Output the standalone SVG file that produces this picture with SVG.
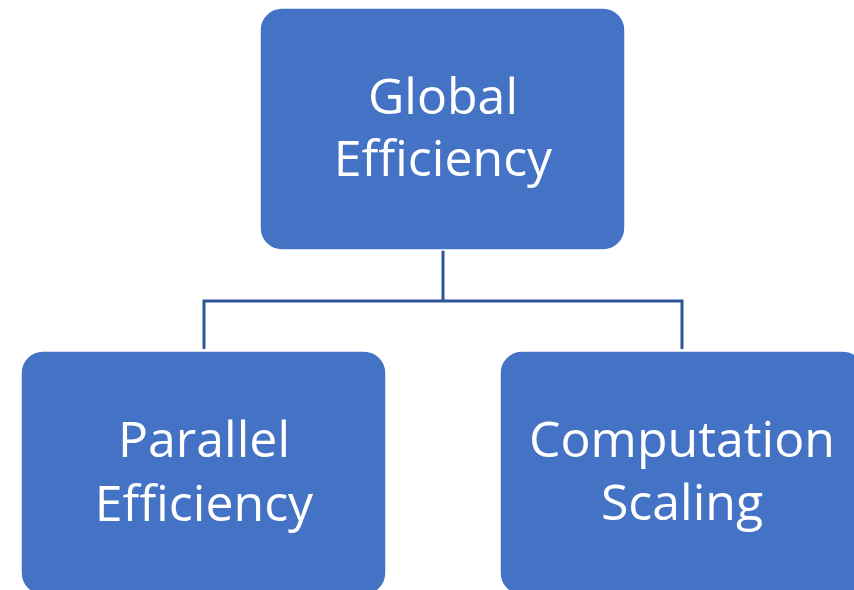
<svg xmlns="http://www.w3.org/2000/svg" width="854" height="590" viewBox="0 0 854 590">
<style>
.box{fill:#4472C4;stroke:#FFFFFF;stroke-width:1.5}
.lbl{fill:#FFFFFF;font-family:"Open Sans","Noto Sans","Liberation Sans",sans-serif;font-size:50px;text-anchor:middle}
.conn{fill:none;stroke:#2F5597;stroke-width:3}
</style>
<rect width="854" height="590" fill="#FFFFFF"/>
<g id="connectors">
<path class="conn" d="M443 250 V301 M204 349 V301 H682 V349"/>
</g>
<g id="global">
<rect class="box" x="260" y="8" width="365" height="242" rx="22" ry="22"/>
<text class="lbl" x="443" y="114">Global</text>
<text class="lbl" x="443" y="176">Efficiency</text>
</g>
<g id="parallel">
<rect class="box" x="21" y="351" width="365" height="244" rx="22" ry="22"/>
<text class="lbl" x="204" y="457">Parallel</text>
<text class="lbl" x="204" y="521">Efficiency</text>
</g>
<g id="computation">
<rect class="box" x="500" y="351" width="365" height="244" rx="22" ry="22"/>
<text class="lbl" x="682" y="457">Computation</text>
<text class="lbl" x="682" y="520">Scaling</text>
</g>
</svg>
